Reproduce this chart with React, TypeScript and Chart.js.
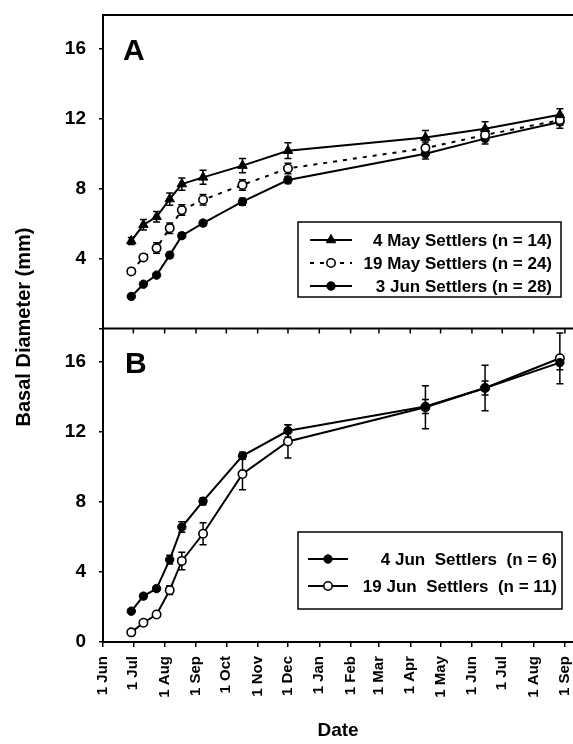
import React, { useEffect, useRef } from 'react';
import { Chart, registerables } from 'chart.js';

Chart.register(...registerables);

// Sampling dates, as days counted from 1 June of the settlement year
const surveyDays = [28, 40, 53, 66, 78, 99, 138, 183, 319, 378, 452];

// Month ticks along the date axis
const monthTickDays = [0, 30, 61, 92, 122, 153, 183, 214, 245, 273, 304, 334, 365, 395, 426, 457];
const monthTickLabels = [
  '1 Jun', '1 Jul', '1 Aug', '1 Sep', '1 Oct', '1 Nov', '1 Dec', '1 Jan',
  '1 Feb', '1 Mar', '1 Apr', '1 May', '1 Jun', '1 Jul', '1 Aug', '1 Sep',
];

// Panel A: mean basal diameter (mm) and standard error
const may4Mean = [5.0, 5.92, 6.38, 7.39, 8.25, 8.63, 9.3, 10.15, 10.9, 11.4, 12.2];
const may4Se = [0.2, 0.3, 0.3, 0.35, 0.35, 0.4, 0.4, 0.45, 0.4, 0.4, 0.35];
const may19Mean = [3.26, 4.06, 4.59, 5.73, 6.76, 7.35, 8.2, 9.14, 10.3, 11.05, 11.9];
const may19Se = [0.15, 0.15, 0.3, 0.3, 0.3, 0.3, 0.3, 0.3, 0.35, 0.3, 0.3];
const jun3Mean = [1.83, 2.53, 3.05, 4.19, 5.3, 6.02, 7.24, 8.48, 9.98, 10.84, 11.79];
const jun3Se = [0.1, 0.1, 0.1, 0.15, 0.15, 0.15, 0.2, 0.2, 0.3, 0.3, 0.35];

// Panel B
const jun4Mean = [1.76, 2.62, 3.05, 4.7, 6.56, 8.04, 10.63, 12.06, 13.45, 14.5, 15.95];
const jun4Se = [0.1, 0.15, 0.15, 0.25, 0.3, 0.2, 0.2, 0.35, 0.4, 0.4, 0.4];
const jun19Mean = [0.55, 1.1, 1.57, 2.96, 4.63, 6.18, 9.59, 11.45, 13.4, 14.5, 16.2];
const jun19Se = [0.1, 0.1, 0.1, 0.25, 0.5, 0.63, 0.9, 0.95, 1.23, 1.3, 1.45];

const yTicks = [0, 2, 4, 6, 8, 10, 12, 14, 16];

const FONT = "'Liberation Sans', Arial, Helvetica, sans-serif";
const INK = '#000';

type Marker = 'triangle' | 'filled' | 'open';

function makeSeries(
  label: string,
  axis: string,
  means: number[],
  errors: number[],
  marker: Marker,
  dash: number[] = []
) {
  return {
    label,
    yAxisID: axis,
    data: surveyDays.map((d, i) => ({ x: d, y: means[i] })),
    errors,
    marker,
    borderColor: INK,
    borderWidth: 2,
    borderDash: dash,
    tension: 0,
    pointStyle: marker === 'triangle' ? 'triangle' : 'circle',
    pointRadius: marker === 'triangle' ? 5.5 : 4.2,
    pointBorderWidth: marker === 'open' ? 1.6 : 1,
    pointBackgroundColor: marker === 'open' ? '#fff' : INK,
    pointBorderColor: INK,
  };
}

function drawMarker(ctx: CanvasRenderingContext2D, kind: Marker, x: number, y: number) {
  ctx.save();
  ctx.strokeStyle = INK;
  ctx.fillStyle = kind === 'open' ? '#fff' : INK;
  ctx.lineWidth = kind === 'open' ? 1.6 : 1;
  ctx.beginPath();
  if (kind === 'triangle') {
    const r = 5.5;
    ctx.moveTo(x, y - r);
    ctx.lineTo(x + r * 0.866, y + r * 0.5);
    ctx.lineTo(x - r * 0.866, y + r * 0.5);
    ctx.closePath();
  } else {
    ctx.arc(x, y, 4.2, 0, Math.PI * 2);
  }
  ctx.fill();
  ctx.stroke();
  ctx.restore();
}

// Vertical error bars with caps, drawn beneath the lines and markers
const errorBarPlugin = {
  id: 'errorBars',
  beforeDatasetsDraw(chart: any) {
    const ctx = chart.ctx as CanvasRenderingContext2D;
    ctx.save();
    ctx.strokeStyle = INK;
    ctx.lineWidth = 1.5;
    chart.data.datasets.forEach((ds: any, di: number) => {
      const meta = chart.getDatasetMeta(di);
      const yScale = chart.scales[ds.yAxisID];
      ds.errors.forEach((e: number, i: number) => {
        const pt = meta.data[i];
        if (!pt) return;
        const v = ds.data[i].y;
        const top = yScale.getPixelForValue(v + e);
        const bot = yScale.getPixelForValue(v - e);
        const x = pt.x;
        ctx.beginPath();
        ctx.moveTo(x, top);
        ctx.lineTo(x, bot);
        ctx.moveTo(x - 3.5, top);
        ctx.lineTo(x + 3.5, top);
        ctx.moveTo(x - 3.5, bot);
        ctx.lineTo(x + 3.5, bot);
        ctx.stroke();
      });
    });
    ctx.restore();
  },
};

type LegendRow = { text: string; marker: Marker; dash: number[] };

function drawLegend(
  ctx: CanvasRenderingContext2D,
  box: { l: number; t: number; r: number; b: number },
  rows: LegendRow[],
  rowYs: number[],
  line: [number, number],
  textRight: number
) {
  ctx.save();
  ctx.strokeStyle = INK;
  ctx.lineWidth = 1.5;
  ctx.strokeRect(box.l, box.t, box.r - box.l, box.b - box.t);
  rows.forEach((row, i) => {
    const y = rowYs[i];
    ctx.save();
    ctx.lineWidth = 2;
    ctx.setLineDash(row.dash);
    ctx.beginPath();
    ctx.moveTo(line[0], y);
    ctx.lineTo(line[1], y);
    ctx.stroke();
    ctx.restore();
    drawMarker(ctx, row.marker, (line[0] + line[1]) / 2, y);
    ctx.fillStyle = INK;
    ctx.font = `bold 17px ${FONT}`;
    ctx.textAlign = 'right';
    ctx.textBaseline = 'alphabetic';
    ctx.fillText(row.text, textRight, y + 6);
  });
  ctx.restore();
}

// Frame lines, panel letters, legends and axis titles
const decorPlugin = {
  id: 'decor',
  afterDraw(chart: any) {
    const ctx = chart.ctx as CanvasRenderingContext2D;
    const area = chart.chartArea;
    const yA = chart.scales.yA;
    const xs = chart.scales.x;
    ctx.save();
    ctx.strokeStyle = INK;
    ctx.lineWidth = 2;
    ctx.beginPath();
    ctx.moveTo(area.left, area.top);
    ctx.lineTo(area.right, area.top);
    ctx.moveTo(area.left, yA.bottom);
    ctx.lineTo(area.right, yA.bottom);
    ctx.stroke();

    // tick marks on the divider between the panels
    ctx.lineWidth = 1.5;
    ctx.beginPath();
    monthTickDays.forEach((d) => {
      const x = xs.getPixelForValue(d);
      ctx.moveTo(x, yA.bottom);
      ctx.lineTo(x, yA.bottom + 5);
    });
    ctx.stroke();

    ctx.fillStyle = INK;
    ctx.font = `bold 30px ${FONT}`;
    ctx.textAlign = 'left';
    ctx.textBaseline = 'alphabetic';
    ctx.fillText('A', 123, 59.5);
    ctx.fillText('B', 125, 372.5);

    drawLegend(
      ctx,
      { l: 298, t: 222, r: 561, b: 297 },
      [
        { text: '4 May Settlers (n = 14)', marker: 'triangle', dash: [] },
        { text: '19 May Settlers (n = 24)', marker: 'open', dash: [4, 6] },
        { text: '3 Jun Settlers (n = 28)', marker: 'filled', dash: [] },
      ],
      [240, 263, 286],
      [310, 352],
      552
    );
    drawLegend(
      ctx,
      { l: 298, t: 532, r: 562, b: 609 },
      [
        { text: '4 Jun  Settlers  (n = 6)', marker: 'filled', dash: [] },
        { text: '19 Jun  Settlers  (n = 11)', marker: 'open', dash: [] },
      ],
      [559, 586],
      [308, 348],
      557
    );

    ctx.font = `bold 19px ${FONT}`;
    ctx.textAlign = 'center';
    ctx.textBaseline = 'alphabetic';
    ctx.fillText('Date', 338, 736);

    ctx.translate(24, 327);
    ctx.rotate(-Math.PI / 2);
    ctx.font = `bold 20px ${FONT}`;
    ctx.textBaseline = 'middle';
    ctx.fillText('Basal Diameter (mm)', 0, 0);
    ctx.restore();
  },
};

function yAxis(showZero: boolean) {
  return {
    type: 'linear' as const,
    position: 'left' as const,
    stack: 'panels',
    stackWeight: 1,
    min: 0,
    max: 17.9,
    afterBuildTicks: (s: any) => {
      s.ticks = yTicks.map((v) => ({ value: v }));
    },
    afterFit: (s: any) => {
      s.width = 103;
      s.paddingTop = 0;
      s.paddingBottom = 0;
    },
    ticks: {
      color: INK,
      padding: 13,
      font: { family: FONT, size: 19, weight: 'bold' as const },
      callback: (v: number) => (v % 4 === 0 && (showZero || v > 0) ? String(v) : ''),
    },
    grid: { drawOnChartArea: false, drawTicks: true, tickLength: 4, color: INK, lineWidth: 1.5 },
    border: { color: INK, width: 2 },
  };
}

export default function App() {
  const canvasRef = useRef<HTMLCanvasElement | null>(null);

  useEffect(() => {
    if (!canvasRef.current) return;
    const chart = new Chart(canvasRef.current, {
      type: 'line',
      data: {
        datasets: [
          makeSeries('4 May Settlers (n = 14)', 'yA', may4Mean, may4Se, 'triangle'),
          makeSeries('19 May Settlers (n = 24)', 'yA', may19Mean, may19Se, 'open', [4, 6]),
          makeSeries('3 Jun Settlers (n = 28)', 'yA', jun3Mean, jun3Se, 'filled'),
          makeSeries('4 Jun Settlers (n = 6)', 'yB', jun4Mean, jun4Se, 'filled'),
          makeSeries('19 Jun Settlers (n = 11)', 'yB', jun19Mean, jun19Se, 'open'),
        ] as any,
      },
      options: {
        responsive: false,
        animation: false,
        devicePixelRatio: 1,
        layout: { autoPadding: false, padding: { top: 15, left: 0, right: 0, bottom: 0 } },
        plugins: { legend: { display: false }, tooltip: { enabled: false } },
        scales: {
          x: {
            type: 'linear',
            position: 'bottom',
            min: 0,
            max: 465,
            afterBuildTicks: (s: any) => {
              s.ticks = monthTickDays.map((v) => ({ value: v }));
            },
            afterFit: (s: any) => {
              s.height = 102;
              s.paddingLeft = 0;
              s.paddingRight = 0;
            },
            ticks: {
              autoSkip: false,
              minRotation: 90,
              maxRotation: 90,
              padding: 9,
              color: INK,
              font: { family: FONT, size: 15, weight: 'bold' },
              callback: (_v: any, i: number) => monthTickLabels[i],
            },
            grid: { drawOnChartArea: false, drawTicks: true, tickLength: 5, color: INK, lineWidth: 1.5 },
            border: { color: INK, width: 2 },
          },
          yB: yAxis(true),
          yA: yAxis(false),
        } as any,
      },
      plugins: [errorBarPlugin, decorPlugin],
    });
    return () => chart.destroy();
  }, []);

  return (
    <div style={{ position: 'absolute', left: 0, top: 0, width: 573, height: 744, background: '#fff' }}>
      <canvas ref={canvasRef} width={573} height={744} style={{ display: 'block' }} />
    </div>
  );
}
